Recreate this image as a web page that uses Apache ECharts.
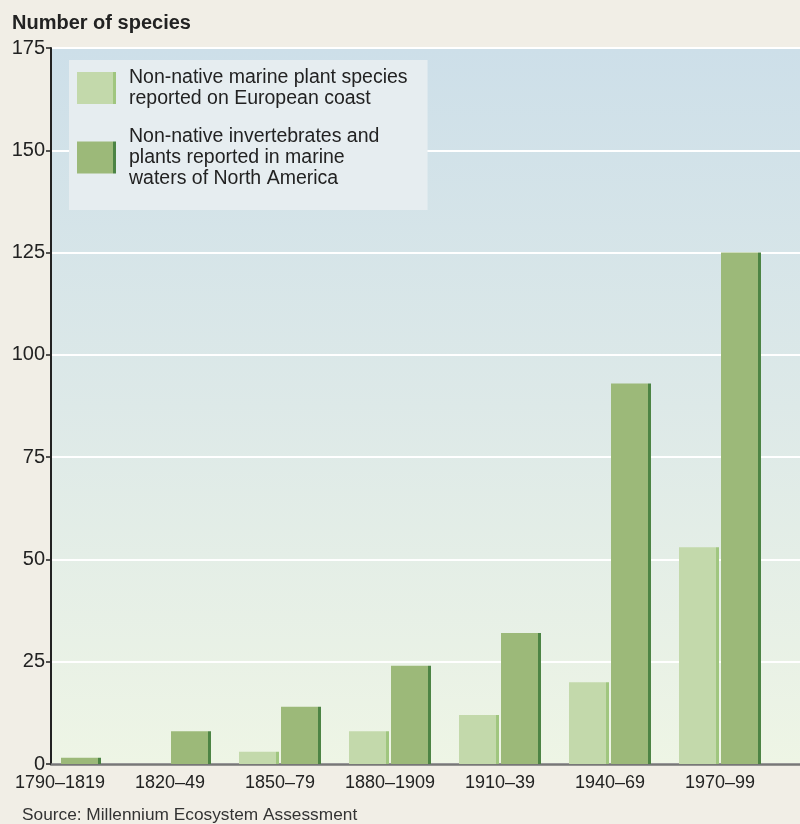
<!DOCTYPE html>
<html><head><meta charset="utf-8">
<script src="https://cdn.jsdelivr.net/npm/echarts@6/dist/echarts.min.js"></script>
<style>html,body{margin:0;padding:0;background:#f1eee6}#c{width:800px;height:824px}</style>
</head><body><div id="c"></div>
<script>
const categories = ['1790–1819','1820–49','1850–79','1880–1909','1910–39','1940–69','1970–99'];
const europeanPlants = [0, 0, 3, 8, 12, 20, 53];
const northAmerica = [1.5, 8, 14, 24, 32, 93, 125];
const yTicks = [0, 25, 50, 75, 100, 125, 150, 175];
const seriesNames = [
  'Non-native marine plant species\nreported on European coast',
  'Non-native invertebrates and\nplants reported in marine\nwaters of North America'
];
const axisTitle = 'Number of species';
const sourceText = 'Source: Millennium Ecosystem Assessment';

const font = '"Liberation Sans", Arial, Helvetica, sans-serif';
function sideGrad(main, side) {
  return {type:'linear', x:0, y:0, x2:1, y2:0, colorStops:[
    {offset:0, color:main},{offset:0.925, color:main},{offset:0.925, color:side},{offset:1, color:side}]};
}
const chart = echarts.init(document.getElementById('c'), null, {renderer:'canvas'});
const option = {
  backgroundColor:'#f1eee6',
  animation:false,
  textStyle:{fontFamily:font},
  title:[
    {text:axisTitle, left:7, top:8, textStyle:{fontSize:20, fontWeight:'bold', color:'#222', fontFamily:font}},
    {text:sourceText, left:17, top:802, textStyle:{fontSize:17.3, fontWeight:'normal', color:'#333', fontFamily:font}}
  ],
  grid:[
    {left:51, right:0, top:48, bottom:60, show:true, borderWidth:0,
     backgroundColor:{type:'linear', x:0, y:0, x2:0, y2:1, colorStops:[
       {offset:0, color:'#cddfe9'},{offset:0.5, color:'#dde9e8'},{offset:1, color:'#eef5e5'}]}},
    {left:5, width:770, top:48, bottom:60}
  ],
  legend:{
    orient:'vertical', left:69, top:60, backgroundColor:'#e6edf0',
    padding:[7, 20, 21, 8], itemGap:17, itemWidth:39, itemHeight:32, icon:'rect',
    textStyle:{fontSize:19.5, lineHeight:21, color:'#222', fontFamily:font, padding:[0,0,0,8]},
    data:seriesNames
  },
  xAxis:[
    {type:'value', gridIndex:0, min:0, max:1, axisLine:{show:true, onZero:false, lineStyle:{color:'#777', width:2.5}},
     axisTick:{show:false}, axisLabel:{show:false}, splitLine:{show:false}},
    {type:'category', gridIndex:1, data:categories, axisLine:{show:false}, axisTick:{show:false},
     axisLabel:{interval:0, fontSize:18, color:'#222', margin:10, fontFamily:font}}
  ],
  yAxis:[
    {type:'value', gridIndex:0, min:0, max:175, interval:25,
     axisLine:{show:true, lineStyle:{color:'#222', width:2}},
     axisTick:{show:true, length:5, lineStyle:{color:'#222', width:1.5}},
     axisLabel:{fontSize:20, color:'#222', margin:6, fontFamily:font,
       formatter:v => yTicks.includes(v) ? String(v) : ''},
     splitLine:{show:true, lineStyle:{color:'#ffffff', width:2}}},
    {type:'value', gridIndex:1, min:0, max:175, show:false}
  ],
  series:[
    {name:seriesNames[0], type:'bar', xAxisIndex:1, yAxisIndex:1, data:europeanPlants,
     barWidth:40, barGap:'5%', itemStyle:{color:sideGrad('#c3d9ab','#a0c67f')}},
    {name:seriesNames[1], type:'bar', xAxisIndex:1, yAxisIndex:1, data:northAmerica,
     barWidth:40, barGap:'5%', itemStyle:{color:sideGrad('#9cb979','#4c8444')}}
  ]
};
chart.setOption(option);
</script></body></html>
